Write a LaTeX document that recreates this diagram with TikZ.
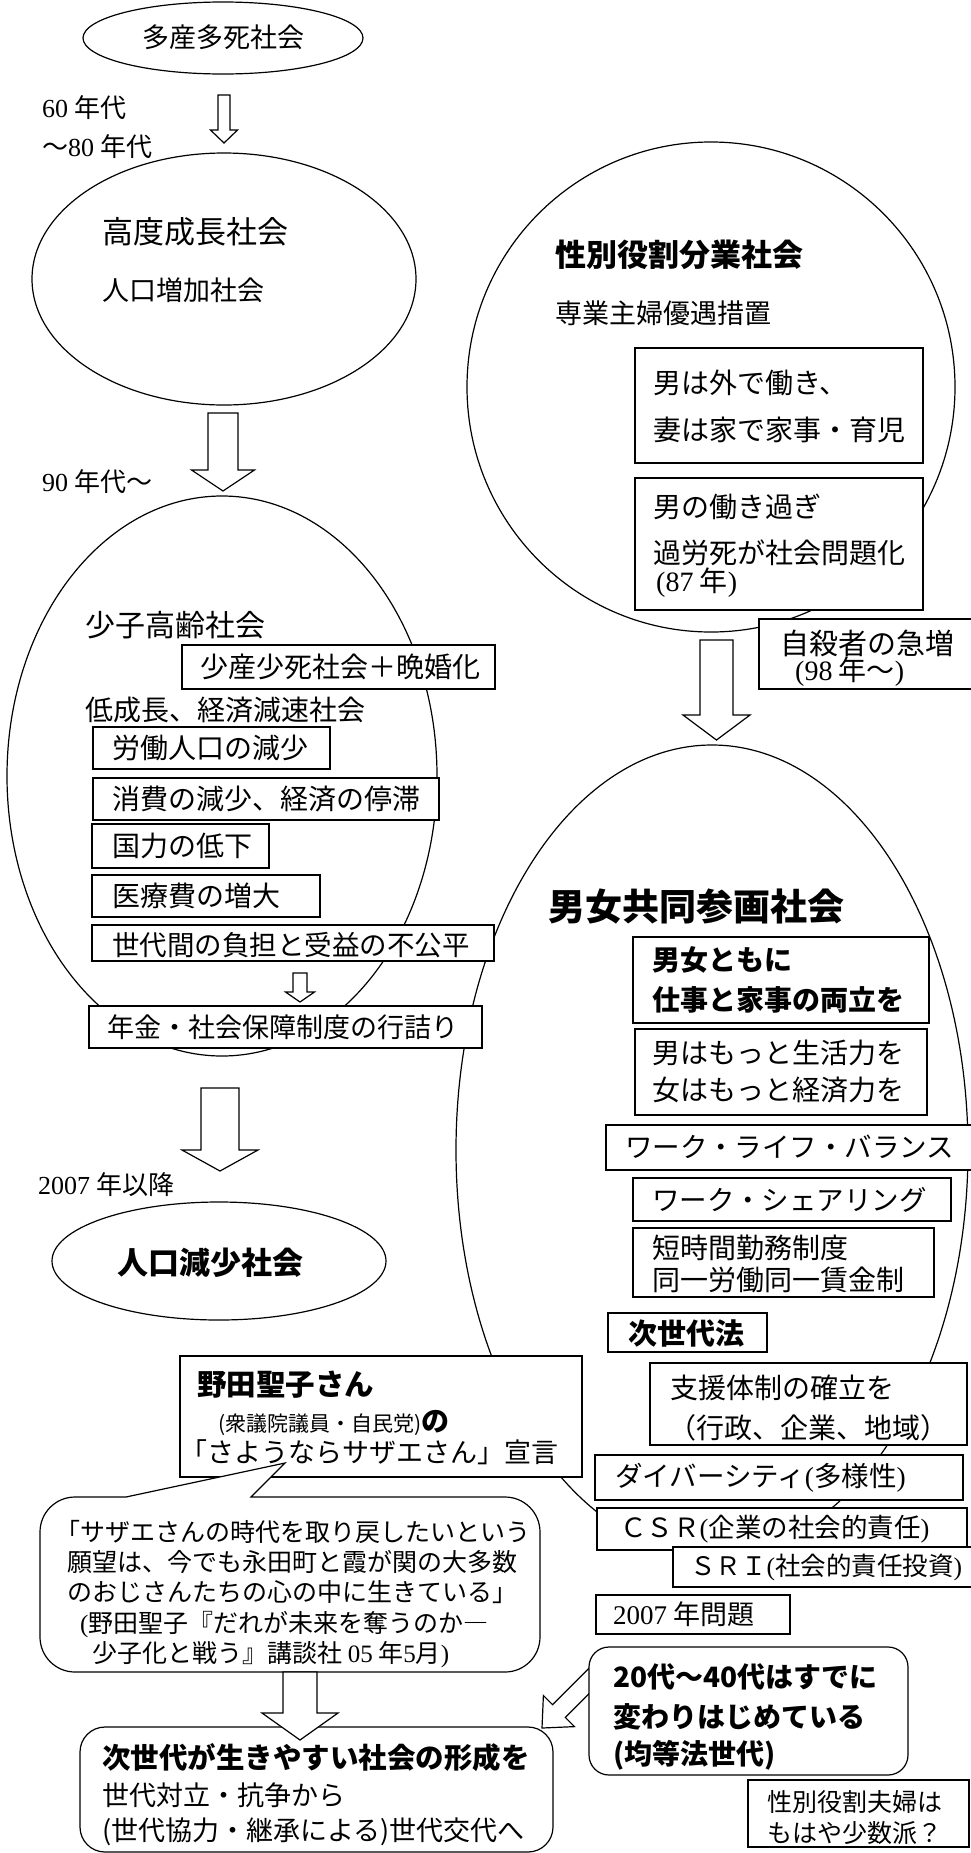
\documentclass[tikz,border=0pt]{standalone}
\usepackage{fontspec}
\setmainfont{Noto Sans CJK JP}
\newfontfamily\lat{Liberation Serif}
\tikzset{
  ln/.style={draw, line width=1.2pt},
  bx/.style={draw, line width=1.2pt, fill=white},
  tx/.style={anchor=west, inner sep=0pt, font=\fontsize{#1pt}{#1pt}\selectfont},
  tb/.style={anchor=west, inner sep=0pt, font=\bfseries\fontsize{#1pt}{#1pt}\selectfont},
  tc/.style={anchor=center, inner sep=0pt, font=\fontsize{#1pt}{#1pt}\selectfont},
  tcb/.style={anchor=center, inner sep=0pt, font=\bfseries\fontsize{#1pt}{#1pt}\selectfont},
}
% hollow down arrow: cx, top, shaft half width, head y, head half width, tip y
\newcommand\hollowdown[6]{%
  \draw[bx] ({#1-#3},#2) -- ({#1+#3},#2) -- ({#1+#3},#4) -- ({#1+#5},#4) -- (#1,#6) -- ({#1-#5},#4) -- ({#1-#3},#4) -- cycle;}
\begin{document}
\begin{tikzpicture}[x=1pt,y=-1pt]
\useasboundingbox[fill=white] (0,0) rectangle (970,1853);
% ellipses
\draw[ln] (223,38) ellipse [x radius=140pt, y radius=36pt];
\draw[ln] (224,279) ellipse [x radius=192pt, y radius=126pt];
\draw[ln] (222,776) ellipse [x radius=215pt, y radius=280pt];
\draw[ln] (711,387) ellipse [x radius=244pt, y radius=245pt];
\draw[ln] (712,1150) ellipse [x radius=256pt, y radius=405pt];
\draw[ln] (219,1261) ellipse [x radius=167pt, y radius=59pt];
% arrows
\hollowdown{224}{95}{6}{130}{13.5}{143}
\hollowdown{223}{413}{15}{470}{31.5}{491}
\hollowdown{300}{973}{7}{992}{14.5}{1002}
\hollowdown{220}{1088}{19}{1150}{38}{1171}
\hollowdown{716.5}{640}{16.5}{715}{33.5}{740}
% left column boxes
\draw[bx] (182,645) rectangle (495,689);
\draw[bx] (93,727) rectangle (330,769);
\draw[bx] (93,778) rectangle (439,820);
\draw[bx] (92,824) rectangle (269,868);
\draw[bx] (92,875) rectangle (320,917);
\draw[bx] (92,925) rectangle (494,961);
\draw[bx] (89,1006) rectangle (482,1048);
% right column boxes
\draw[bx] (635,348) rectangle (923,463);
\draw[bx] (635,478) rectangle (923,610);
\draw[bx] (759,619) rectangle (975,689);
\draw[bx] (633,937) rectangle (929,1023);
\draw[bx] (635,1029) rectangle (927,1115);
\draw[bx] (606,1125) rectangle (975,1170);
\draw[bx] (633,1178) rectangle (951,1221);
\draw[bx] (633,1228) rectangle (934,1297);
\draw[bx] (608,1313) rectangle (767,1352);
\draw[bx] (650,1363) rectangle (967,1445);
\draw[bx] (595,1455) rectangle (963,1500);
\draw[bx] (597,1508) rectangle (967,1550);
\draw[bx] (673,1547) rectangle (975,1587);
\draw[bx] (596,1595) rectangle (790,1634);
% Noda box and speech bubble
\draw[bx] (180,1356) rectangle (582,1477);
\draw[bx] (126,1497) -- (285,1463) -- (251,1497) -- (505,1497)
  arc[start angle=90,end angle=0,radius=35pt] -- (540,1637)
  arc[start angle=0,end angle=-90,radius=35pt] -- (75,1672)
  arc[start angle=-90,end angle=-180,radius=35pt] -- (40,1532)
  arc[start angle=180,end angle=90,radius=35pt] -- cycle;
% diagonal arrow and generation box
\draw[bx] (599.3,1658.0) -- (552.6,1704.7) -- (543.4,1695.5) -- (542,1728) -- (574.5,1726.6) -- (565.3,1717.4) -- (612.0,1670.7) -- cycle;
\draw[bx, rounded corners=20pt] (589,1647) rectangle (908,1775);
\draw[bx, rounded corners=25pt] (80,1727) rectangle (553,1852);
\hollowdown{300}{1672}{17}{1713}{38}{1740}
\draw[bx] (748,1780) rectangle (969,1847);
% texts
\node[tc=27] (n1) at (223,37) {多産多死社会};
\node[tx=26] (n2) at (42,108) {{\lat 60} 年代};
\node[tx=26] (n3) at (42,147) {〜{\lat 80} 年代};
\node[tx=31] (n4) at (102,232) {高度成長社会};
\node[tx=27] (n5) at (102,290) {人口増加社会};
\node[tx=26] (n6) at (42,482) {{\lat 90} 年代〜};
\node[tx=30] (n7) at (85,625) {少子高齢社会};
\node[tx=28] (n8) at (200,667) {少産少死社会＋晩婚化};
\node[tx=28] (n9) at (85,710) {低成長、経済減速社会};
\node[tx=28] (n10) at (112,748) {労働人口の減少};
\node[tx=28] (n11) at (112,799) {消費の減少、経済の停滞};
\node[tx=28] (n12) at (112,846) {国力の低下};
\node[tx=28] (n13) at (112,896) {医療費の増大};
\node[tx=27.5] (n14) at (112,945) {世代間の負担と受益の不公平};
\node[tx=27] (n15) at (107,1027) {年金・社会保障制度の行詰り};
\node[tb=31] (n16) at (555,255) {性別役割分業社会};
\node[tx=27] (n17) at (555,313) {専業主婦優遇措置};
\node[tx=28] (n18) at (653,383) {男は外で働き、};
\node[tx=28] (n19) at (653,430) {妻は家で家事・育児};
\node[tx=28] (n20) at (653,507) {男の働き過ぎ};
\node[tx=28] (n21) at (653,553) {過労死が社会問題化};
\node[tx=28] (n22) at (656,583) {{\lat (87} 年{\lat )}};
\node[tx=29] (n23) at (780,643) {自殺者の急増};
\node[tx=28] (n24) at (795,672) {{\lat (98} 年〜{\lat )}};
\node[tb=37] (n25) at (548,907) {男女共同参画社会};
\node[tb=28] (n26) at (652,960) {男女ともに};
\node[tb=28] (n27) at (652,1000) {仕事と家事の両立を};
\node[tx=28] (n28) at (652,1053) {男はもっと生活力を};
\node[tx=28] (n29) at (652,1090) {女はもっと経済力を};
\node[tx=27.5] (n30) at (625,1147) {ワーク・ライフ・バランス};
\node[tx=27.5] (n31) at (652,1200) {ワーク・シェアリング};
\node[tx=28] (n32) at (652,1248) {短時間勤務制度};
\node[tx=28] (n33) at (652,1280) {同一労働同一賃金制};
\node[tb=29] (n34) at (628,1333) {次世代法};
\node[tx=28] (n35) at (670,1388) {支援体制の確立を};
\node[tx=28] (n36) at (668,1428) {（行政、企業、地域）};
\node[tx=27.5] (n37) at (615,1478) {ダイバーシティ{\lat (}多様性{\lat )}};
\node[tx=26.5] (n38) at (620,1529) {ＣＳＲ{\lat (}企業の社会的責任{\lat )}};
\node[tx=25.5] (n39) at (690,1567) {ＳＲＩ{\lat (}社会的責任投資{\lat )}};
\node[tb=29.5] (n40) at (197,1385) {野田聖子さん};
\node[tx=21] (n41) at (218,1423) {(衆議院議員・自民党){\bfseries\fontsize{28pt}{28pt}\selectfont の}};
\node[tx=27] (n42) at (180,1452) {「さようならサザエさん」宣言};
\node[tcb=31] (n43) at (210,1263) {人口減少社会};
\node[tx=26] (n44) at (38,1185) {{\lat 2007} 年以降};
\node[tx=25] (q1) at (55,1532) {「サザエさんの時代を取り戻したいという};
\node[tx=25] (q2) at (67,1562) {願望は、今でも永田町と霞が関の大多数};
\node[tx=25] (q3) at (67,1592) {のおじさんたちの心の中に生きている」};
\node[tx=25] (q4) at (80,1625) {{\lat (}野田聖子『だれが未来を奪うのか―};
\node[tx=25] (q5) at (92,1655) {少子化と戦う』講談社 {\lat 05} 年{\lat 5}月{\lat )}};
\node[tx=27] (n50) at (613,1614) {{\lat 2007} 年問題};
\node[tb=28] (n51) at (613,1677) {20代〜40代はすでに};
\node[tb=28] (n52) at (613,1717) {変わりはじめている};
\node[tb=28] (n53) at (613,1755) {(均等法世代)};
\node[tb=28.5] (n54) at (102,1758) {次世代が生きやすい社会の形成を};
\node[tx=27] (n55) at (102,1795) {世代対立・抗争から};
\node[tx=27] (n56) at (102,1832) {(世代協力・継承による)世代交代へ};
\node[tx=25] (n57) at (767,1802) {性別役割夫婦は};
\node[tx=25] (n58) at (767,1833) {もはや少数派？};
\end{tikzpicture}
\end{document}
